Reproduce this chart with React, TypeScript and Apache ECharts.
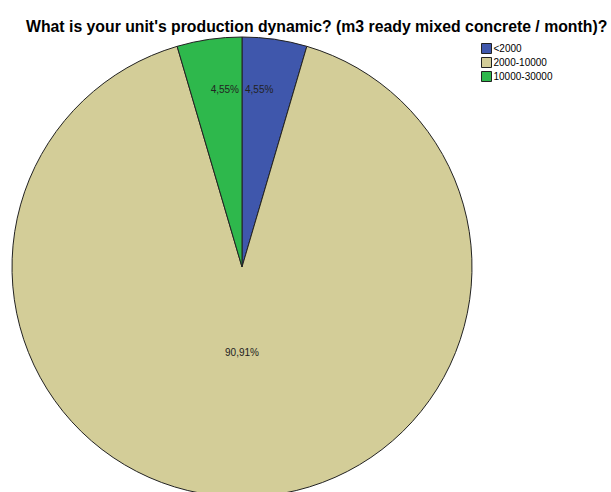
import React, { useEffect, useRef } from "react";
import * as echarts from "echarts";

const categories = ["<2000", "2000-10000", "10000-30000"];
const values = [4.55, 90.91, 4.55];
const labels = ["4,55%", "90,91%", "4,55%"];
const colors = ["#3F57AC", "#D3CD98", "#2EB84C"];
const title = "What is your unit's production dynamic? (m3 ready mixed concrete / month)?";

const CX = 242;
const CY = 267;
const R = 230;

export default function App() {
  const ref = useRef<HTMLDivElement>(null);
  useEffect(() => {
    document.body.style.margin = "0";
    const chart = echarts.init(ref.current!, null, { renderer: "svg" });
    chart.setOption({
      animation: false,
      backgroundColor: "#ffffff",
      title: {
        text: title,
        left: 21,
        top: 13,
        textStyle: { fontFamily: "Liberation Sans", fontSize: 15.8, fontWeight: "bold", color: "#000" },
      },
      legend: {
        orient: "vertical",
        left: 476,
        top: 38,
        itemWidth: 10,
        itemHeight: 10,
        itemGap: 3,
        icon: "rect",
        data: categories,
        itemStyle: { borderColor: "#222", borderWidth: 1 },
        textStyle: { fontFamily: "Liberation Sans", fontSize: 10, color: "#000", padding: [0, 0, 0, -3] },
      },
      series: [
        {
          type: "pie",
          center: [CX, CY],
          radius: R,
          startAngle: 90,
          clockwise: true,
          avoidLabelOverlap: false,
          itemStyle: { borderColor: "#222", borderWidth: 1 },
          label: {
            show: true,
            position: "inside",
            fontFamily: "Liberation Sans",
            fontSize: 10,
            color: "#222",
            formatter: (p: any) => labels[p.dataIndex],
          },
          labelLine: { show: false },
          labelLayout: (p: any) => {
            if (p.dataIndex === 0) return { x: CX + 3, y: CY - 0.77 * R, align: "left", verticalAlign: "middle" };
            if (p.dataIndex === 2) return { x: CX - 3, y: CY - 0.77 * R, align: "right", verticalAlign: "middle" };
            return { x: CX, y: CY + 0.37 * R, align: "center", verticalAlign: "middle" };
          },
          data: categories.map((c, i) => ({ name: c, value: values[i], itemStyle: { color: colors[i] } })),
        },
      ],
    });
    return () => chart.dispose();
  }, []);
  return <div ref={ref} style={{ width: 611, height: 492 }} />;
}
